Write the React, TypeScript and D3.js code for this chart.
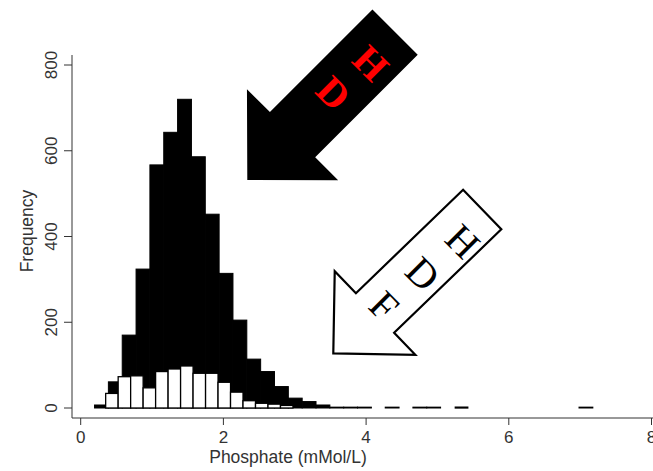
import React from "react";
import * as d3 from "d3";

// ---- data ----
const hdBinWidth = 0.194;
const hdCounts = [0, 7, 61, 170, 324, 567, 643, 720, 586, 452, 314, 205, 114, 85, 50, 23, 15, 7, 2, 2, 2, 0, 2, 0, 2, 2, 0, 0, 0, 0, 0, 0, 0, 0, 0, 0, 2];
const hdfBinWidth = 0.175;
const hdfCounts = [0, 0, 34, 73, 75, 47, 85, 91, 98, 81, 81, 60, 37, 17, 11, 9, 6, 0, 0, 0, 0, 0, 0, 0, 0, 0, 0, 0, 0, 0, 2];
const xTicks = [0, 2, 4, 6, 8];
const yTicks = [0, 200, 400, 600, 800];
const xLabel = "Phosphate (mMol/L)";
const yLabel = "Frequency";
const blackArrowLetters = ["H", "D"];
const whiteArrowLetters = ["H", "D", "F"];

const W = 653;
const H = 471;

function arrowPath(tipX: number, tipY: number, angleDeg: number, len: number, shaftW: number, headW: number, headL: number) {
  const t = (angleDeg * Math.PI) / 180;
  const u = [Math.cos(t), -Math.sin(t)];
  const p = [Math.sin(t), Math.cos(t)];
  const pt = (a: number, b: number) => [tipX + a * u[0] + b * p[0], tipY + a * u[1] + b * p[1]];
  const pts = [
    pt(0, 0),
    pt(headL, -headW / 2),
    pt(headL, -shaftW / 2),
    pt(len, -shaftW / 2),
    pt(len, shaftW / 2),
    pt(headL, shaftW / 2),
    pt(headL, headW / 2),
  ];
  return "M" + pts.map((q) => q[0].toFixed(2) + "," + q[1].toFixed(2)).join("L") + "Z";
}

export default function App() {
  const x = d3.scaleLinear().domain([0, 8]).range([80.7, 651.5]);
  const y = d3.scaleLinear().domain([0, 800]).range([408, 65]);
  const axisColor = "#333";
  const font = "'Liberation Sans', Arial, Helvetica, sans-serif";
  const serif = "'Liberation Serif', 'Times New Roman', serif";

  const blackPos = [
    [370.7, 63.3],
    [333.3, 93.3],
  ];
  const whitePos = [
    [462.5, 241.7],
    [422.5, 274],
    [384, 306],
  ];

  return (
    <svg width={W} height={H} style={{ position: "absolute", left: 0, top: 0, background: "#fff" }}>
      <rect x={0} y={0} width={W} height={H} fill="#fff" />
      {/* HD histogram (black) */}
      {hdCounts.map((c, i) =>
        c > 0 ? (
          <rect
            key={"b" + i}
            x={x(i * hdBinWidth)}
            y={y(c)}
            width={x((i + 1) * hdBinWidth) - x(i * hdBinWidth)}
            height={y(0) - y(c)}
            fill="#000"
            stroke="#000"
            strokeWidth={1}
          />
        ) : null
      )}
      {/* HDF histogram (white) */}
      {hdfCounts.map((c, i) =>
        c > 0 ? (
          <rect
            key={"w" + i}
            x={x(i * hdfBinWidth)}
            y={y(c)}
            width={x((i + 1) * hdfBinWidth) - x(i * hdfBinWidth)}
            height={y(0) - y(c)}
            fill="#fff"
            stroke="#000"
            strokeWidth={1.3}
          />
        ) : null
      )}
      {/* axes */}
      <line x1={72} y1={55} x2={72} y2={418} stroke={axisColor} strokeWidth={1} />
      <line x1={72} y1={418} x2={W} y2={418} stroke={axisColor} strokeWidth={1} />
      {yTicks.map((t) => (
        <g key={"yt" + t}>
          <line x1={64} x2={72} y1={y(t)} y2={y(t)} stroke={axisColor} strokeWidth={1} />
          <text
            transform={`translate(57,${y(t)}) rotate(-90)`}
            textAnchor="middle"
            fontFamily={font}
            fontSize={17}
            fill={axisColor}
          >
            {t}
          </text>
        </g>
      ))}
      {xTicks.map((t) => (
        <g key={"xt" + t}>
          <line x1={x(t)} x2={x(t)} y1={418} y2={425} stroke={axisColor} strokeWidth={1} />
          <text x={x(t)} y={443} textAnchor="middle" fontFamily={font} fontSize={17} fill={axisColor}>
            {t}
          </text>
        </g>
      ))}
      <text x={288} y={463} textAnchor="middle" fontFamily={font} fontSize={17.5} fill={axisColor}>
        {xLabel}
      </text>
      <text
        transform="translate(33,231) rotate(-90)"
        textAnchor="middle"
        fontFamily={font}
        fontSize={17.5}
        fill={axisColor}
      >
        {yLabel}
      </text>
      {/* black arrow (HD) */}
      <path d={arrowPath(247.3, 180, 45, 209, 64, 129, 64)} fill="#000" />
      {blackArrowLetters.map((l, i) => (
        <text
          key={"bl" + i}
          transform={`translate(${blackPos[i][0]},${blackPos[i][1]}) rotate(45)`}
          textAnchor="middle"
          dy="0.33em"
          fontFamily={serif}
          fontWeight="bold"
          fontSize={40}
          fill="#ff0000"
        >
          {l}
        </text>
      ))}
      {/* white arrow (HDF) */}
      <path d={arrowPath(333.3, 353.3, 44, 207, 55, 116, 58)} fill="#fff" stroke="#000" strokeWidth={2.2} strokeLinejoin="miter" />
      {whiteArrowLetters.map((l, i) => (
        <text
          key={"wl" + i}
          transform={`translate(${whitePos[i][0]},${whitePos[i][1]}) rotate(45)`}
          textAnchor="middle"
          dy="0.33em"
          fontFamily={serif}
          fontSize={40}
          fill="#000"
        >
          {l}
        </text>
      ))}
    </svg>
  );
}
